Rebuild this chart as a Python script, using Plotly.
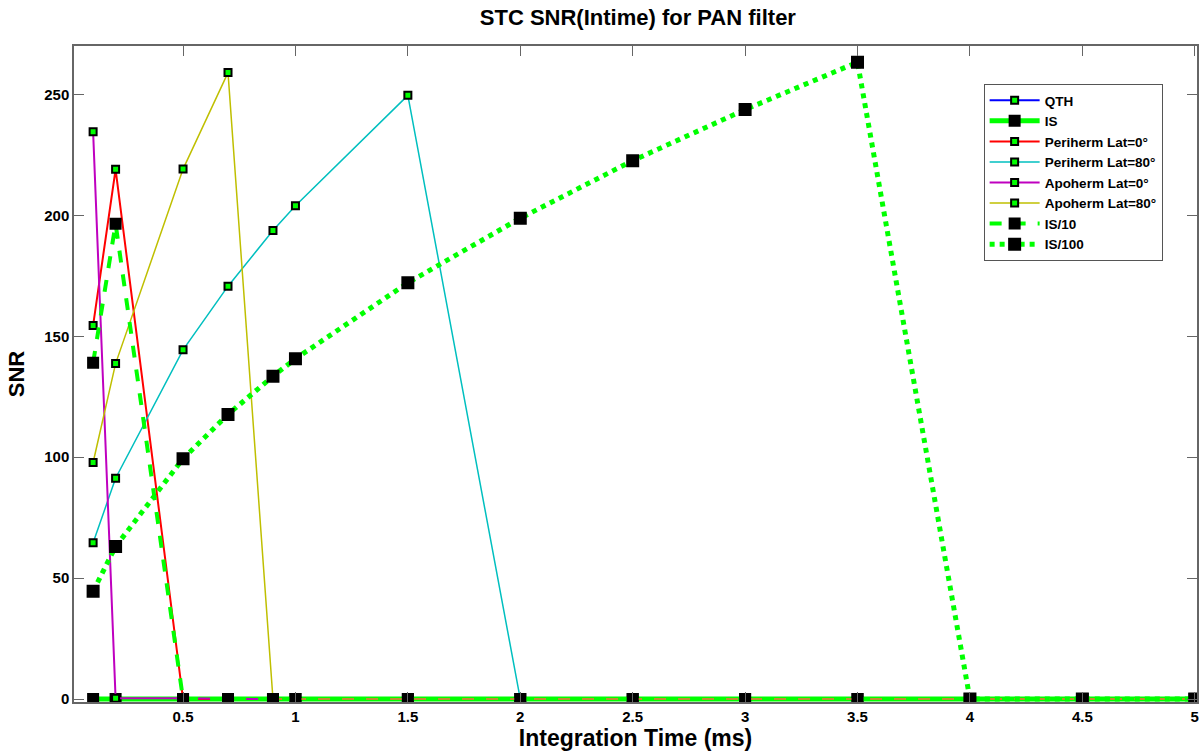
import plotly.graph_objects as go

# integration times (ms)
x_ms = [0.1, 0.2, 0.5, 0.7, 0.9, 1, 1.5, 2, 2.5, 3, 3.5, 4, 4.5, 5]

qth = [0] * 14
is_full = [0] * 14
peri_lat0 = [154.5, 219, 0, 0, 0, 0, 0, 0, 0, 0, 0, 0, 0, 0]
peri_lat80 = [64.6, 91.3, 144.4, 170.7, 193.7, 204, 249.6, 0, 0, 0, 0, 0, 0, 0]
apo_lat0 = [234.6, 0.3, 0.3, 0, 0, 0, 0, 0, 0, 0, 0, 0, 0, 0]
apo_lat80 = [97.8, 138.7, 219.1, 259, 0, 0, 0, 0, 0, 0, 0, 0, 0, 0]
is_10 = [139, 196.5, 0, 0, 0, 0, 0, 0, 0, 0, 0, 0, 0, 0]
is_100 = [44.6, 63.1, 99.4, 117.7, 133.5, 140.7, 172.1, 198.8, 222.6, 243.7, 263.3, 0, 0, 0]

x_ticks = [0.5, 1, 1.5, 2, 2.5, 3, 3.5, 4, 4.5, 5]
y_ticks = [0, 50, 100, 150, 200, 250]

series = [
    # name, values, line colour, width, dash, marker fill, marker size
    ("QTH", qth, "#0000ff", 2, "solid", "#00ff00", 7),
    ("IS", is_full, "#00ff00", 5, "solid", "#000000", 10),
    ("Periherm Lat=0°", peri_lat0, "#ff0000", 2, "solid", "#00ff00", 7),
    ("Periherm Lat=80°", peri_lat80, "#00bfbf", 1.5, "solid", "#00ff00", 7),
    ("Apoherm Lat=0°", apo_lat0, "#bf00bf", 2, "solid", "#00ff00", 7),
    ("Apoherm Lat=80°", apo_lat80, "#bfbf00", 1.5, "solid", "#00ff00", 7),
    ("IS/10", is_10, "#00ff00", 4, "dash", "#000000", 10),
    ("IS/100", is_100, "#00ff00", 5, "dot", "#000000", 11),
]

fig = go.Figure()
for name, vals, col, w, dash, mfill, msize in series:
    fig.add_trace(go.Scatter(
        x=x_ms, y=vals, name="<b>%s</b>" % name, mode="lines+markers",
        line=dict(color=col, width=w, dash=dash),
        marker=dict(symbol="square", size=msize, color=mfill,
                    line=dict(color="#000000", width=2)),
    ))

axis_common = dict(
    showline=True, linecolor="#666666", linewidth=1.5, mirror="ticks",
    ticks="inside", ticklen=10, tickcolor="#666666", showgrid=False,
    zeroline=False, automargin=False, tickfont=dict(size=15, color="#000000"),
)

fig.update_layout(
    width=1199, height=753,
    paper_bgcolor="white", plot_bgcolor="white",
    font=dict(family="Liberation Sans, Arial, sans-serif", color="#000000"),
    margin=dict(l=74, r=2, t=46, b=51),
    title=dict(text="<b>STC SNR(Intime) for PAN filter</b>", x=0.532, xanchor="center",
               y=0.977, yanchor="middle", font=dict(size=22), automargin=False),
    xaxis=dict(axis_common, range=[0.015, 5.01], tickvals=x_ticks,
               ticktext=["<b>%g</b>" % v for v in x_ticks],
               title=dict(text="<b>Integration Time (ms)</b>", font=dict(size=23), standoff=2)),
    yaxis=dict(axis_common, range=[-1.2, 270], tickvals=y_ticks,
               ticktext=["<b>%d</b>" % v for v in y_ticks],
               title=dict(text="<b>SNR</b>", font=dict(size=22), standoff=14)),
    legend=dict(x=0.81, y=0.942, xanchor="left", yanchor="top",
                bgcolor="white", bordercolor="#555555", borderwidth=1,
                font=dict(size=13.5), tracegroupgap=0, itemwidth=50),
    showlegend=True,
)

fig.write_html("out.html", config={"displayModeBar": False},
               post_script="document.body.style.margin='0';document.body.style.overflow='hidden';")
